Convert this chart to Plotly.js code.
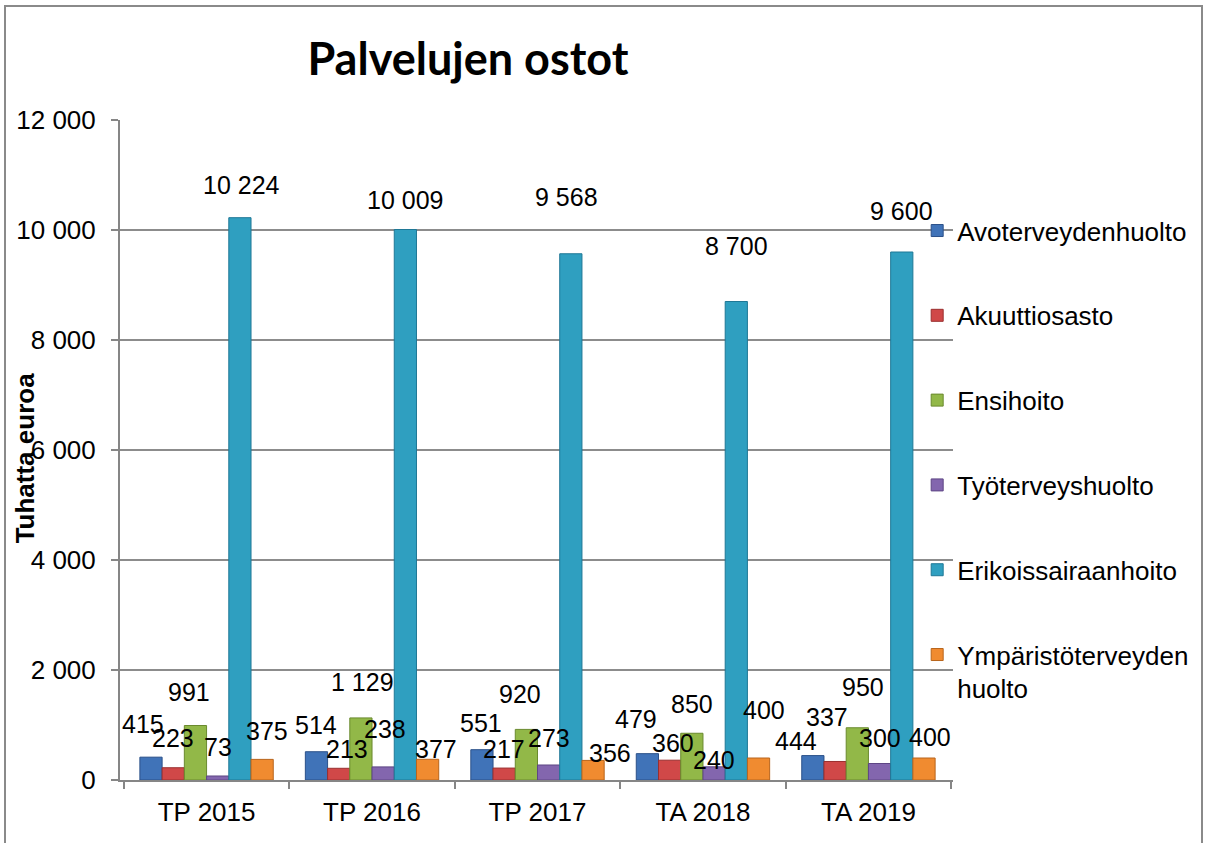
<!DOCTYPE html>
<html>
<head>
<meta charset="utf-8">
<script src="https://cdn.plot.ly/plotly-3.0.1.min.js"></script>
<style>
  body { margin: 0; background: #fff; }
  #chart { position: absolute; left: 0; top: 0; width: 1206px; height: 843px; }
  #frame { position: absolute; left: 4px; top: 5px; width: 1195px; height: 900px;
           border: 2px solid #8a8a8a; pointer-events: none; }
</style>
</head>
<body>
<div id="chart"></div>
<div id="frame"></div>
<script>
const years = ['TP 2015', 'TP 2016', 'TP 2017', 'TA 2018', 'TA 2019'];

const avoterveydenhuolto = [415, 514, 551, 479, 444];
const akuuttiosasto = [223, 213, 217, 360, 337];
const ensihoito = [991, 1129, 920, 850, 950];
const tyoterveyshuolto = [73, 238, 273, 240, 300];
const erikoissairaanhoito = [10224, 10009, 9568, 8700, 9600];
const ymparistoterveydenhuolto = [375, 377, 356, 400, 400];

const seriesNames = ['Avoterveydenhuolto', 'Akuuttiosasto', 'Ensihoito',
  'Työterveyshuolto', 'Erikoissairaanhoito', 'Ympäristöterveyden<br>huolto'];
const seriesValues = [avoterveydenhuolto, akuuttiosasto, ensihoito,
  tyoterveyshuolto, erikoissairaanhoito, ymparistoterveydenhuolto];
const seriesColors = ['#4073B8', '#D04848', '#92B848', '#8366AE', '#2F9FC0', '#F08B30'];
const seriesLines = ['#2B5189', '#9A2F2F', '#6A8A2E', '#5E4685', '#1F7896', '#B8651C'];

// label nudges in pixels (how the original placed its value labels)
const labelLift = [
  [33, 27, 27, 35, 15],
  [30, 19, 19, 17, 44],
  [34, 36, 35, 29, 41],
  [29, 38, 27, 7, 26],
  [33, 30, 57, 56, 41],
  [28, 10, 7, 48, 21]
];
const labelSide = [
  [-8, 0, -1, -11, -17],
  [0, 8, 0, 3, -8],
  [-6, 2, -6, 0, 6],
  [0, 2, 0, 0, 0],
  [2, 0, -4, 0, 0],
  [5, 8, 17, 5, 6]
];

const FONT = '"Liberation Sans", Arial, sans-serif';
const bargap = 0.194;

function fmt(v) {
  return String(v).replace(/\B(?=(\d{3})+(?!\d))/g, ' ');
}

const data = seriesValues.map((vals, k) => ({
  type: 'bar',
  x: years,
  y: vals,
  name: seriesNames[k],
  legendgroup: 'g' + k,
  marker: { color: seriesColors[k], line: { color: seriesLines[k], width: 1 } },
  hoverinfo: 'x+y+name'
}));

// value labels above each bar
const barW = (1 - bargap) / seriesValues.length;
const annotations = [];
seriesValues.forEach((vals, k) => {
  vals.forEach((v, i) => {
    annotations.push({
      x: i - (1 - bargap) / 2 + (k + 0.5) * barW,
      y: v,
      xref: 'x', yref: 'y',
      text: fmt(v),
      showarrow: false,
      yanchor: 'middle',
      yshift: labelLift[k][i],
      xshift: labelSide[k][i],
      font: { family: FONT, size: 25, color: '#000' }
    });
  });
});

// y axis title, placed like the original (overlapping the tick labels a bit)
annotations.push({
  text: '<b>Tuhatta euroa</b>',
  xref: 'paper', yref: 'paper',
  x: -0.1147, y: 0.488,
  xanchor: 'center', yanchor: 'middle',
  textangle: -90,
  showarrow: false,
  font: { family: FONT, size: 26, color: '#000' }
});

const layout = {
  width: 1206,
  height: 843,
  margin: { l: 120, r: 249, t: 120, b: 63 },
  paper_bgcolor: 'rgba(0,0,0,0)',
  plot_bgcolor: 'rgba(0,0,0,0)',
  separators: ', ',
  barmode: 'group',
  bargap: bargap,
  bargroupgap: 0,
  font: { family: FONT, size: 26, color: '#000' },
  title: {
    text: '<b>Palvelujen ostot</b>',
    font: { family: 'Lato, "Liberation Sans", sans-serif', size: 45, color: '#000' },
    xref: 'container', yref: 'container',
    x: 0.388, xanchor: 'center',
    y: 0.93, yanchor: 'middle'
  },
  xaxis: {
    type: 'category',
    showline: true, linecolor: '#868686', linewidth: 2,
    ticks: 'outside', tickson: 'boundaries', ticklen: 7, tickcolor: '#868686', tickwidth: 2,
    ticklabelstandoff: 8,
    tickfont: { family: FONT, size: 26 },
    showgrid: false, zeroline: false
  },
  yaxis: {
    range: [0, 12000],
    dtick: 2000,
    tickformat: ',d',
    showline: true, linecolor: '#868686', linewidth: 2,
    ticks: 'outside', ticklen: 7, tickcolor: '#868686', tickwidth: 2,
    ticklabelstandoff: 10,
    tickfont: { family: FONT, size: 26 },
    gridcolor: '#8c8c8c', gridwidth: 2,
    zeroline: false
  },
  legend: {
    x: 0.957, xanchor: 'left',
    y: 0.868, yanchor: 'top',
    bgcolor: 'rgba(0,0,0,0)',
    font: { family: FONT, size: 26 },
    tracegroupgap: 48,
    valign: 'top',
    itemwidth: 30
  },
  annotations: annotations,
  showlegend: true
};

Plotly.newPlot('chart', data, layout, { displayModeBar: false, staticPlot: true });
</script>
</body>
</html>
